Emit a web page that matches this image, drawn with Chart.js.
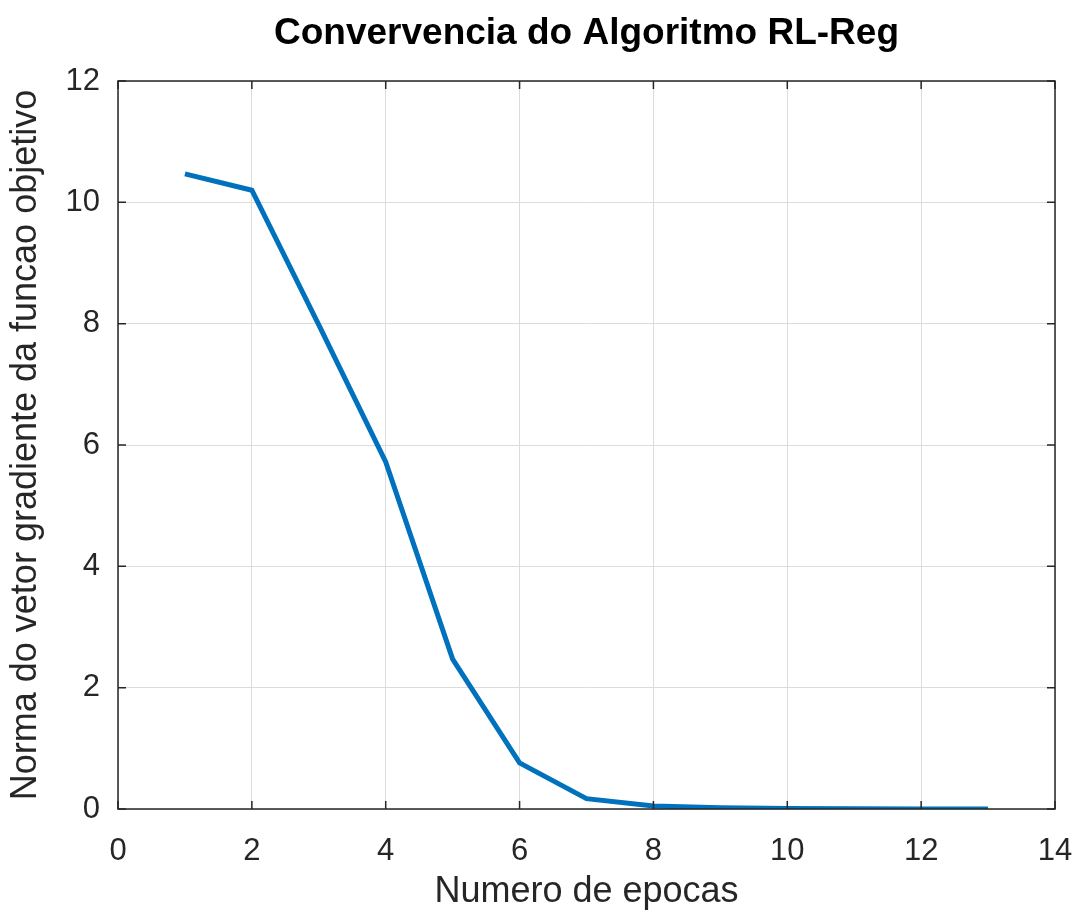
<!DOCTYPE html>
<html>
<head>
<meta charset="utf-8">
<script src="https://cdn.jsdelivr.net/npm/chart.js@4"></script>
<style>
	html, body { margin: 0; padding: 0; background: #fff; }
	#wrap { width: 1079px; height: 914px; }
</style>
</head>
<body>
<div id="wrap"><canvas id="convChart" width="1079" height="914"></canvas></div>
<script>
// data
const epocas = [1, 2, 3, 4, 5, 6, 7, 8, 9, 10, 11, 12, 13];
const normaGradiente = [10.47, 10.2, 7.98, 5.72, 2.47, 0.76, 0.17, 0.05, 0.02, 0.01, 0.005, 0.002, 0.001];
const xTicks = [0, 2, 4, 6, 8, 10, 12, 14];
const yTicks = [0, 2, 4, 6, 8, 10, 12];
const chartTitle = 'Convervencia do Algoritmo RL-Reg';

const lineColor = '#0072BD';
const axisColor = '#262626';
const fontFamily = '"Liberation Sans", Arial, Helvetica, sans-serif';

// box around the plot area, inward ticks + title centred over the plot (like the octave figure)
const frameBox = {
	id: 'frameBox',
	afterDraw(chart) {
		const { ctx, chartArea: a, scales } = chart;
		const tickLen = 8;
		ctx.save();
		ctx.strokeStyle = axisColor;
		ctx.lineWidth = 1.5;
		ctx.strokeRect(a.left, a.top, a.right - a.left, a.bottom - a.top);

		ctx.beginPath();
		xTicks.forEach(v => {
			const px = scales.x.getPixelForValue(v);
			ctx.moveTo(px, a.bottom); ctx.lineTo(px, a.bottom - tickLen);
			ctx.moveTo(px, a.top); ctx.lineTo(px, a.top + tickLen);
		});
		yTicks.forEach(v => {
			const py = scales.y.getPixelForValue(v);
			ctx.moveTo(a.left, py); ctx.lineTo(a.left + tickLen, py);
			ctx.moveTo(a.right, py); ctx.lineTo(a.right - tickLen, py);
		});
		ctx.stroke();

		ctx.fillStyle = '#000';
		ctx.font = 'bold 37px ' + fontFamily;
		ctx.textAlign = 'center';
		ctx.textBaseline = 'alphabetic';
		ctx.fillText(chartTitle, (a.left + a.right) / 2, 44);
		ctx.restore();
	}
};

new Chart(document.getElementById('convChart'), {
	type: 'line',
	data: {
		datasets: [{
			data: epocas.map((x, i) => ({ x: x, y: normaGradiente[i] })),
			borderColor: lineColor,
			borderWidth: 5,
			pointRadius: 0,
			tension: 0,
			fill: false,
		}]
	},
	options: {
		responsive: false,
		animation: false,
		layout: { padding: { top: 81, right: 24, left: 0, bottom: 0 } },
		plugins: {
			legend: { display: false },
			tooltip: { enabled: false },
			title: { display: false }
		},
		scales: {
			x: {
				type: 'linear',
				min: 0,
				max: 14,
				afterBuildTicks: (s) => { s.ticks = xTicks.map(v => ({ value: v })); },
				afterFit: (s) => { s.height = 105; s.paddingLeft = 0; s.paddingRight = 0; },
				ticks: { color: axisColor, font: { family: fontFamily, size: 31 }, padding: 24 },
				grid: { color: '#dcdcdc', lineWidth: 1, drawTicks: false },
				border: { display: false },
				title: {
					display: true,
					text: 'Numero de epocas',
					color: axisColor,
					font: { family: fontFamily, size: 36 },
					padding: { top: 0, bottom: 0 }
				}
			},
			y: {
				min: 0,
				max: 12,
				afterBuildTicks: (s) => { s.ticks = yTicks.map(v => ({ value: v })); },
				afterFit: (s) => { s.width = 118; s.paddingTop = 0; s.paddingBottom = 0; },
				ticks: { color: axisColor, font: { family: fontFamily, size: 31 }, padding: 18 },
				grid: { color: '#dcdcdc', lineWidth: 1, drawTicks: false },
				border: { display: false },
				title: {
					display: true,
					text: 'Norma do vetor gradiente da funcao objetivo',
					color: axisColor,
					font: { family: fontFamily, size: 36 },
					padding: { top: 4, bottom: 4 }
				}
			}
		}
	},
	plugins: [frameBox]
});
</script>
</body>
</html>
